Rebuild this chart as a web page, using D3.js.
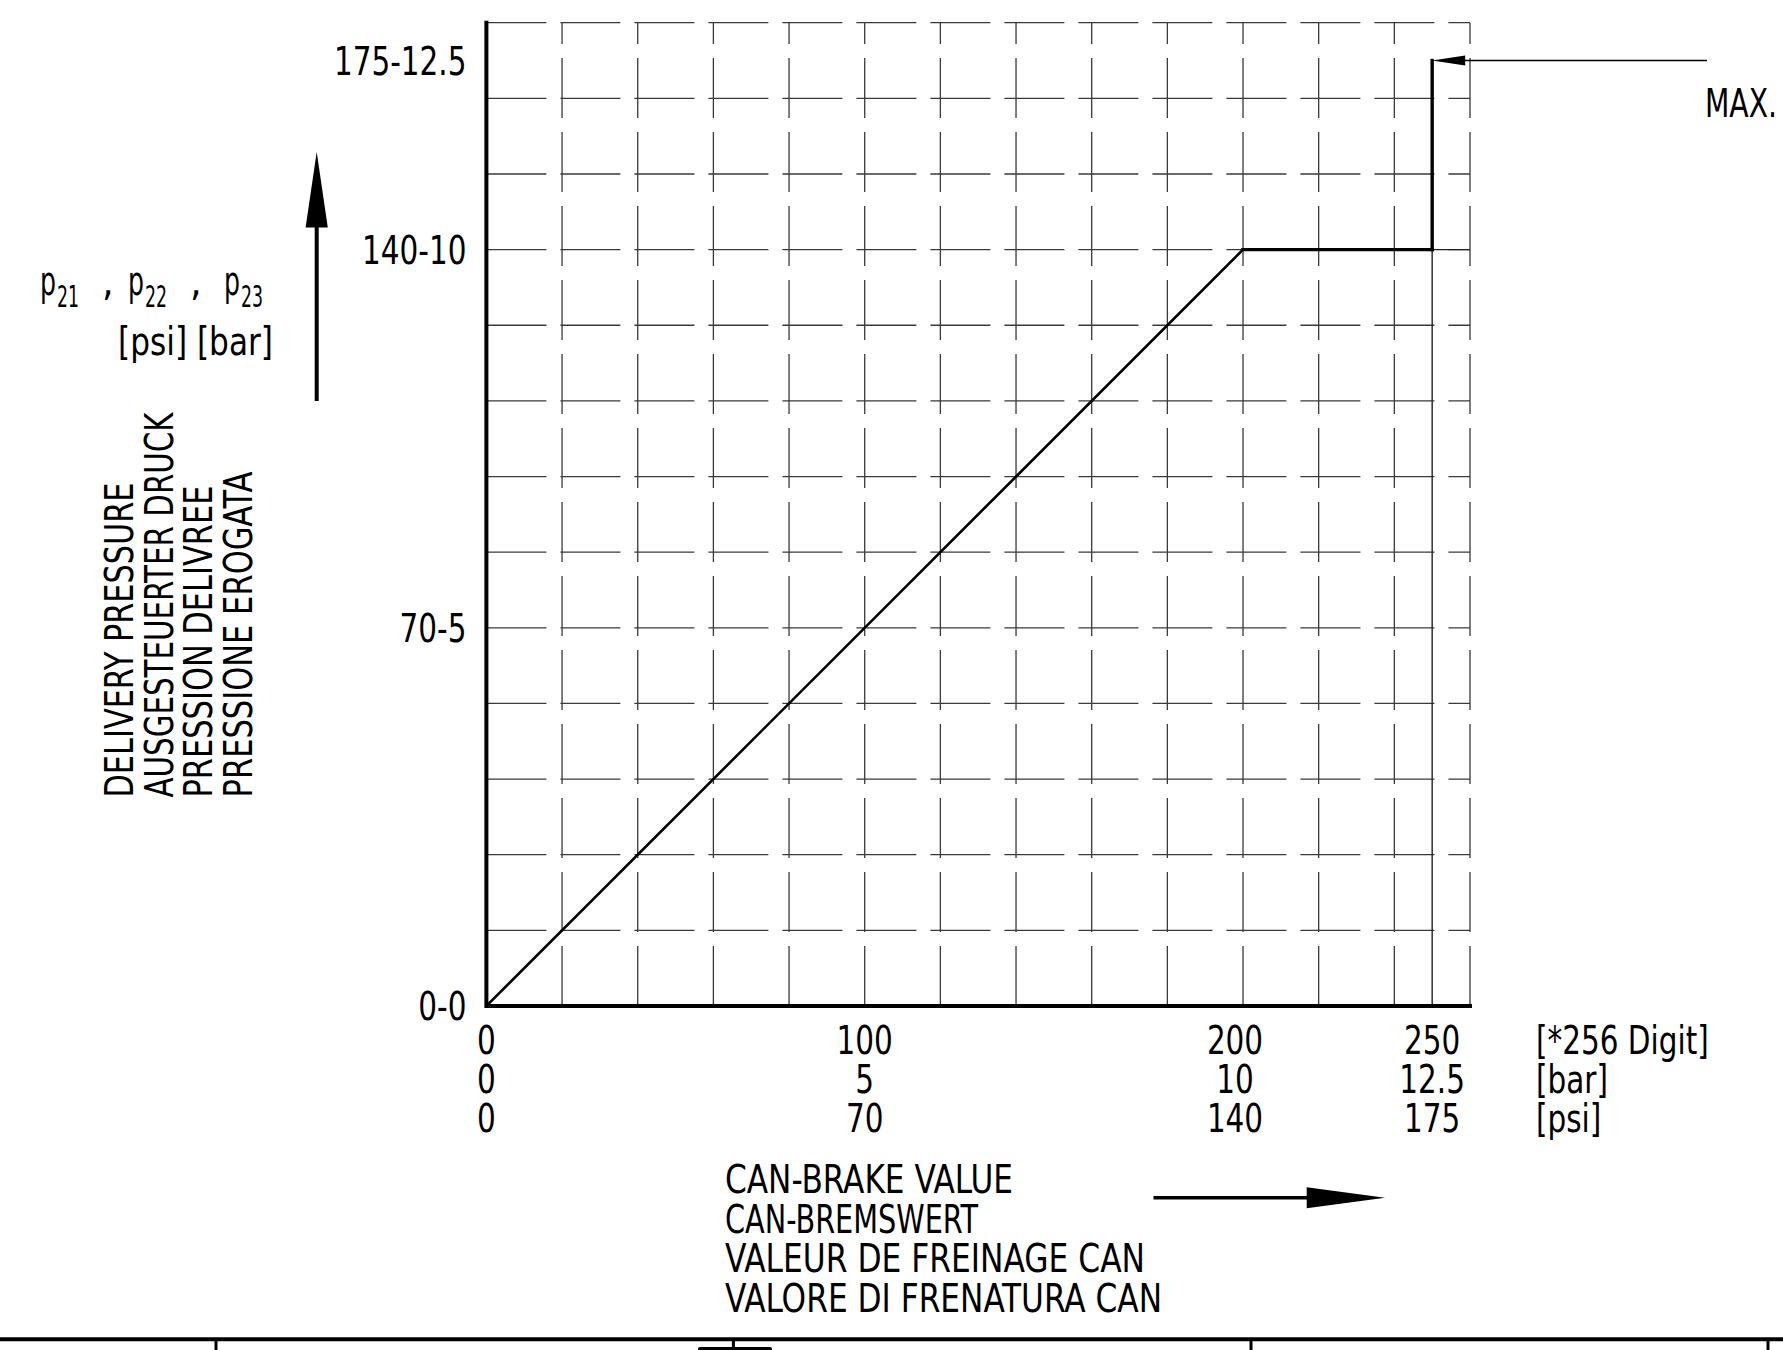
<!DOCTYPE html>
<html>
<head>
<meta charset="utf-8">
<script src="https://cdn.jsdelivr.net/npm/d3@7/dist/d3.min.js"></script>
<style>
  html, body { margin: 0; padding: 0; background: #fff; }
  svg { display: block; }
</style>
</head>
<body>
<div id="chart"></div>
<script>
// CAN brake value -> delivery pressure characteristic, drawn like the CAD sheet.

// curve: CAN value in *256 digit, pressure in bar
const curveDigit = [0, 200, 250, 250];
const curveBar   = [0, 10, 10, 12.5];

// x axis ticks, three label rows
const xTickDigit = [0, 100, 200, 250];
const xTickBar   = ["0", "5", "10", "12.5"];
const xTickPsi   = ["0", "70", "140", "175"];
const xUnits     = ["[*256 Digit]", "[bar]", "[psi]"];

// y axis ticks (bar) with psi-bar labels
const yTickBar   = [0, 5, 10, 12.5];
const yTickLabel = ["0-0", "70-5", "140-10", "175-12.5"];

// grid: one division = 20 digit / 1 bar, 13 divisions each way
const gridMaxDigit = 260;
const gridMaxBar   = 13;

const yTitle = ["DELIVERY PRESSURE", "AUSGESTEUERTER DRUCK", "PRESSION DELIVREE", "PRESSIONE EROGATA"];
const xTitle = ["CAN-BRAKE VALUE", "CAN-BREMSWERT", "VALEUR DE FREINAGE CAN", "VALORE DI FRENATURA CAN"];
const subs   = ["21", "22", "23"];
const maxLabel = "MAX.";

const W = 1783, H = 1350;
const FONT = "'Liberation Sans Narrow','DejaVu Sans Condensed','Arial Narrow',sans-serif";
const FS = 39;
const NARROW = 0.84;   // the CAD stroke font is narrower than anything installed

const svg = d3.select("#chart").append("svg")
  .attr("width", W).attr("height", H)
  .attr("viewBox", `0 0 ${W} ${H}`)
  .style("font-family", FONT);

// squeeze a text horizontally, keeping its anchor
function condense(sel, k = NARROW) {
  sel.each(function () {
    const w = this.getComputedTextLength();
    d3.select(this).attr("textLength", w * k).attr("lengthAdjust", "spacingAndGlyphs");
  });
  return sel;
}

const x = d3.scaleLinear().domain([0, gridMaxDigit]).range([486.4, 1470]);
const y = d3.scaleLinear().domain([0, gridMaxBar]).range([1006, 22.7]);

// ---- grid (dashed, drawn left->right and bottom->top)
const gGrid = svg.append("g")
  .attr("stroke", "#3a3a3a").attr("stroke-width", 1.3)
  .attr("fill", "none").attr("stroke-dasharray", "60 14");

gGrid.selectAll("path.v")
  .data(d3.range(20, gridMaxDigit + 1, 20))
  .join("path").attr("class", "v")
  .attr("d", d => `M${x(d)},${y(0)}V${y(gridMaxBar)}`);

gGrid.selectAll("path.h")
  .data(d3.range(1, gridMaxBar + 1))
  .join("path").attr("class", "h")
  .attr("d", d => `M${x(0)},${y(d)}H${x(gridMaxDigit)}`);

// thin solid projection lines at the max step
const lastDigit = curveDigit[curveDigit.length - 1];
const kneeBar = curveBar[curveBar.length - 2];
svg.append("path")
  .attr("fill", "none").attr("stroke", "#222").attr("stroke-width", 1.4)
  .attr("d", `M${x(lastDigit)},${y(0)}V${y(kneeBar)}M${x(lastDigit)},${y(kneeBar)}H${x(gridMaxDigit)}`);

// ---- axes (heavy lines)
svg.append("path")
  .attr("fill", "none").attr("stroke", "#000").attr("stroke-width", 4)
  .attr("stroke-linecap", "square")
  .attr("d", `M${x(0)},${y(gridMaxBar)}V${y(0)}H${x(gridMaxDigit)}`);

// ---- characteristic curve
const pts = curveDigit.map((d, i) => [d, curveBar[i]]);
svg.append("g").selectAll("line")
  .data(d3.pairs(pts))
  .join("line")
  .attr("x1", d => x(d[0][0])).attr("y1", d => y(d[0][1]))
  .attr("x2", d => x(d[1][0])).attr("y2", d => y(d[1][1]))
  .attr("stroke", "#000")
  .attr("stroke-linecap", "square")
  .attr("stroke-width", d => (d[0][0] === d[1][0] || d[0][1] === d[1][1]) ? 3.4 : 2.6);

// ---- y tick labels
svg.append("g").selectAll("text")
  .data(yTickBar)
  .join("text")
  .attr("x", x(0) - 20)
  .attr("y", d => y(d))
  .attr("dy", "0.36em")
  .attr("text-anchor", "end")
  .attr("font-size", FS)
  .text((d, i) => yTickLabel[i])
  .call(condense);

// ---- x tick labels (3 rows) + unit column
const rowY = i => y(0) + 48 + i * 39;
const xRows = [xTickDigit.map(String), xTickBar, xTickPsi];
xRows.forEach((row, r) => {
  svg.append("g").selectAll("text")
    .data(xTickDigit)
    .join("text")
    .attr("x", d => x(d) - (d === 200 ? 8 : 0))
    .attr("y", rowY(r))
    .attr("text-anchor", "middle")
    .attr("font-size", FS)
    .text((d, i) => row[i])
    .call(condense);
});
svg.append("g").selectAll("text")
  .data(xUnits)
  .join("text")
  .attr("x", 1536)
  .attr("y", (d, i) => rowY(i))
  .attr("font-size", FS)
  .text(d => d)
  .call(condense);

// ---- MAX. callout
const yMax = y(curveBar[curveBar.length - 1]);
svg.append("line")
  .attr("x1", x(lastDigit) + 30).attr("y1", yMax)
  .attr("x2", 1707).attr("y2", yMax)
  .attr("stroke", "#000").attr("stroke-width", 1.6);
svg.append("path")
  .attr("fill", "#000")
  .attr("d", `M${x(lastDigit)},${yMax}L${x(lastDigit) + 33},${yMax - 5}L${x(lastDigit) + 33},${yMax + 5}Z`);
svg.append("text")
  .attr("x", 1705).attr("y", 116.5)
  .attr("font-size", FS)
  .attr("textLength", 72).attr("lengthAdjust", "spacingAndGlyphs")
  .text(maxLabel);

// ---- y axis symbol block: p21 , p22 , p23 / [psi] [bar]
const gp = svg.append("g").attr("font-size", 41);
[40, 128, 224].forEach((px, i) => {
  gp.append("text").attr("x", px).attr("y", 295)
    .attr("textLength", 16).attr("lengthAdjust", "spacingAndGlyphs").text("p");
  gp.append("text").attr("x", px + 17).attr("y", 306.5)
    .attr("font-size", 31).attr("textLength", 22).attr("lengthAdjust", "spacingAndGlyphs")
    .text(subs[i]);
  if (i < 2) gp.append("text").attr("x", px + 62).attr("y", 295).text(",");
});
gp.append("text").attr("x", 273).attr("y", 355).attr("font-size", FS)
  .attr("text-anchor", "end")
  .attr("textLength", 155).attr("lengthAdjust", "spacingAndGlyphs")
  .text("[psi] [bar]");

// upward arrow
svg.append("line")
  .attr("x1", 316.7).attr("y1", 401).attr("x2", 316.7).attr("y2", 220)
  .attr("stroke", "#000").attr("stroke-width", 4);
svg.append("path").attr("fill", "#000")
  .attr("d", "M316.7,152L327.8,227.5L305.6,227.5Z");

// rotated multilingual title
const yTitleLen = [315, 385, 312, 326];
const yTitleBase = [133, 172.5, 212, 252];
svg.append("g").selectAll("text")
  .data(yTitle)
  .join("text")
  .attr("transform", (d, i) => `translate(${yTitleBase[i]},797.5) rotate(-90)`)
  .attr("font-size", FS)
  .attr("textLength", (d, i) => yTitleLen[i])
  .attr("lengthAdjust", "spacingAndGlyphs")
  .text(d => d);

// ---- x axis title + arrow
const xTitleLen = [288, 253, 420, 437];
svg.append("g").selectAll("text")
  .data(xTitle)
  .join("text")
  .attr("x", 725)
  .attr("y", (d, i) => 1193.3 + i * 39.4)
  .attr("font-size", FS)
  .attr("textLength", (d, i) => xTitleLen[i])
  .attr("lengthAdjust", "spacingAndGlyphs")
  .text(d => d);

svg.append("line")
  .attr("x1", 1153.5).attr("y1", 1197.7).attr("x2", 1312).attr("y2", 1197.7)
  .attr("stroke", "#000").attr("stroke-width", 3.6);
svg.append("path").attr("fill", "#000")
  .attr("d", "M1385,1197.7L1306.7,1187.3L1306.7,1208.3Z");

// ---- title block border cut at the bottom of the sheet
svg.append("line")
  .attr("x1", 0).attr("y1", 1339.3).attr("x2", W).attr("y2", 1339.3)
  .attr("stroke", "#000").attr("stroke-width", 4);
svg.append("g").selectAll("line")
  .data([216, 733.4, 1251, 1768])
  .join("line")
  .attr("x1", d => d).attr("x2", d => d)
  .attr("y1", 1339.3).attr("y2", H)
  .attr("stroke", "#000").attr("stroke-width", 3);
svg.append("rect")
  .attr("x", 698).attr("y", 1347).attr("width", 74).attr("height", 4)
  .attr("rx", 2).attr("fill", "#000");
</script>
</body>
</html>
